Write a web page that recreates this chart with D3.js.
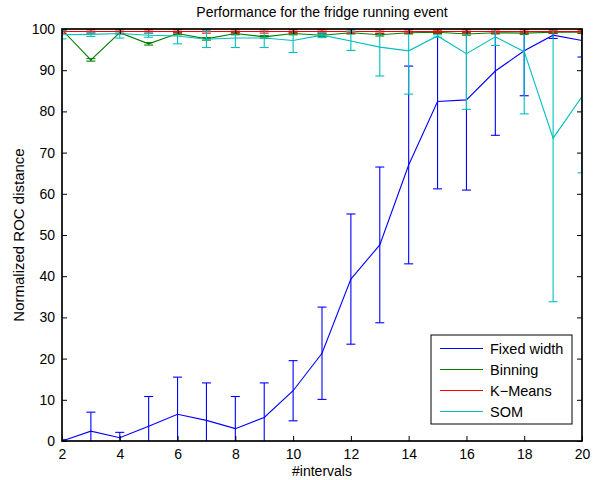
<!DOCTYPE html>
<html>
<head>
<meta charset="utf-8">
<script src="https://cdn.jsdelivr.net/npm/d3@7"></script>
<style>
 body { margin:0; background:#fff; }
 text { font-family: "Liberation Sans", Arial, sans-serif; }
</style>
</head>
<body>
<div id="chart"></div>
<script>
 // data
 var intervals = [2,3,4,5,6,7,8,9,10,11,12,13,14,15,16,17,18,19,20];

 var fixedMean = [0,2.4,0.8,3.6,6.5,5.0,3.0,5.7,12.2,21.3,39.3,47.6,67.0,82.4,82.8,89.8,94.7,98.5,97.2];
 var fixedErr  = [0.3,4.6,1.3,7.2,9.0,9.1,7.8,8.4,7.3,11.2,15.8,18.9,24.0,21.2,21.9,15.6,10.9,0.8,4.0];

 var binMean = [99.8,92.5,99.1,96.4,98.9,97.6,98.9,98.1,98.9,98.5,99.1,98.6,99.1,99.2,98.8,99.1,99.0,99.2,99.2];
 var binErr  = [0.3,0.3,0.3,0.3,0.3,0.3,0.3,0.3,0.3,0.3,0.3,0.3,0.3,0.3,0.3,0.3,0.3,0.3,0.3];

 var kmMean = [99.4,99.4,99.4,99.4,99.4,99.4,99.4,99.4,99.4,99.4,99.4,99.4,99.4,99.4,99.4,99.4,99.4,99.4,99.4];
 var kmErr  = [0.4,0.4,0.4,0.4,0.4,0.4,0.4,0.4,0.4,0.4,0.4,0.4,0.4,0.4,0.4,0.4,0.4,0.4,0.4];

 var somMean = [98.6,98.7,98.9,98.5,98.3,97.5,97.8,97.8,97.2,98.5,97.1,95.6,94.7,98.3,94.0,98.1,94.5,73.5,83.6];
 var somErr  = [1.0,0.5,1.1,0.5,1.9,2.0,2.3,2.3,2.9,0.6,2.3,7.0,10.5,0.3,13.5,2.1,15.1,39.7,18.5];

 var seriesNames = ["Fixed width","Binning","K\u2212Means","SOM"];
 var seriesColors = ["#0000ff","#008000","#ff0000","#00bfbf"];

 var xTicks = [2,4,6,8,10,12,14,16,18,20];
 var yTicks = [0,10,20,30,40,50,60,70,80,90,100];

 var W = 594, H = 480;
 var m = {left:62, right:12, top:29, bottom:39};

 var svg = d3.select("#chart").append("svg")
     .attr("width",W)
     .attr("height",H);

 var x = d3.scaleLinear().domain([2,20]).range([m.left, W-m.right]);
 var y = d3.scaleLinear().domain([0,100]).range([H-m.bottom, m.top]);

 svg.append("clipPath").attr("id","plotclip")
     .append("rect")
     .attr("x",m.left).attr("y",m.top)
     .attr("width",W-m.left-m.right).attr("height",H-m.top-m.bottom);

 var plot = svg.append("g").attr("clip-path","url(#plotclip)");

 var all = [
     {mean:fixedMean, err:fixedErr},
     {mean:binMean, err:binErr},
     {mean:kmMean, err:kmErr},
     {mean:somMean, err:somErr}
 ];

 var line = d3.line()
     .x(function(d){ return x(d.x); })
     .y(function(d){ return y(d.m); });

 var cap = 4.5; // half width of error bar caps

 all.forEach(function(s,k) {
     var pts = intervals.map(function(v,i){ return {x:v, m:s.mean[i], e:s.err[i]}; });
     var g = plot.append("g").attr("stroke",seriesColors[k]).attr("fill","none").attr("stroke-width",1.1);
     var eb = g.selectAll("g.eb").data(pts).enter().append("g").attr("class","eb");
     eb.append("line")
	 .attr("x1",function(d){ return x(d.x); })
	 .attr("x2",function(d){ return x(d.x); })
	 .attr("y1",function(d){ return y(d.m-d.e); })
	 .attr("y2",function(d){ return y(d.m+d.e); });
     eb.append("line")
	 .attr("x1",function(d){ return x(d.x)-cap; })
	 .attr("x2",function(d){ return x(d.x)+cap; })
	 .attr("y1",function(d){ return y(d.m-d.e); })
	 .attr("y2",function(d){ return y(d.m-d.e); });
     eb.append("line")
	 .attr("x1",function(d){ return x(d.x)-cap; })
	 .attr("x2",function(d){ return x(d.x)+cap; })
	 .attr("y1",function(d){ return y(d.m+d.e); })
	 .attr("y2",function(d){ return y(d.m+d.e); });
     g.append("path").attr("d",line(pts));
 });

 // axes box with inward ticks
 var ax = svg.append("g");
 ax.append("g").attr("transform","translate(0,"+(H-m.bottom)+")")
     .call(d3.axisBottom(x).tickValues(xTicks).tickSizeInner(-5).tickSizeOuter(0).tickPadding(8));
 ax.append("g").attr("transform","translate(0,"+m.top+")")
     .call(d3.axisTop(x).tickValues(xTicks).tickSizeInner(-5).tickSizeOuter(0).tickFormat(""));
 ax.append("g").attr("transform","translate("+m.left+",0)")
     .call(d3.axisLeft(y).tickValues(yTicks).tickSizeInner(-5).tickSizeOuter(0).tickPadding(7));
 ax.append("g").attr("transform","translate("+(W-m.right)+",0)")
     .call(d3.axisRight(y).tickValues(yTicks).tickSizeInner(-5).tickSizeOuter(0).tickFormat(""));
 ax.selectAll(".domain").remove();
 ax.selectAll(".tick line").attr("stroke","#000").attr("stroke-width",1);
 ax.selectAll(".tick text").attr("font-size",14).attr("fill","#000")
     .attr("font-family","'Liberation Sans', Arial, sans-serif");
 ax.append("rect")
     .attr("x",m.left).attr("y",m.top)
     .attr("width",W-m.left-m.right).attr("height",H-m.top-m.bottom)
     .attr("fill","none").attr("stroke","#000").attr("stroke-width",1.7);

 // titles
 svg.append("text").attr("x",(m.left+W-m.right)/2).attr("y",17)
     .attr("text-anchor","middle").attr("font-size",14).text("Performance for the fridge running event");
 svg.append("text").attr("x",(m.left+W-m.right)/2).attr("y",476)
     .attr("text-anchor","middle").attr("font-size",14).text("#intervals");
 svg.append("text").attr("transform","translate(24,"+((m.top+H-m.bottom)/2)+") rotate(-90)")
     .attr("text-anchor","middle").attr("font-size",15).text("Normalized ROC distance");

 // legend
 var lg = svg.append("g").attr("transform","translate(431,335)");
 lg.append("rect").attr("width",141).attr("height",89)
     .attr("fill","#fff").attr("stroke","#000").attr("stroke-width",1);
 var items = lg.selectAll("g.item").data(seriesNames).enter().append("g")
     .attr("class","item")
     .attr("transform",function(d,i){ return "translate(0,"+(13.5+i*21)+")"; });
 items.append("line").attr("x1",9).attr("x2",52).attr("y1",0).attr("y2",0)
     .attr("stroke",function(d,i){ return seriesColors[i]; }).attr("stroke-width",1.1);
 items.append("text").attr("x",59).attr("y",0).attr("dy","0.35em")
     .attr("font-size",14.5).text(function(d){ return d; });
</script>
</body>
</html>
